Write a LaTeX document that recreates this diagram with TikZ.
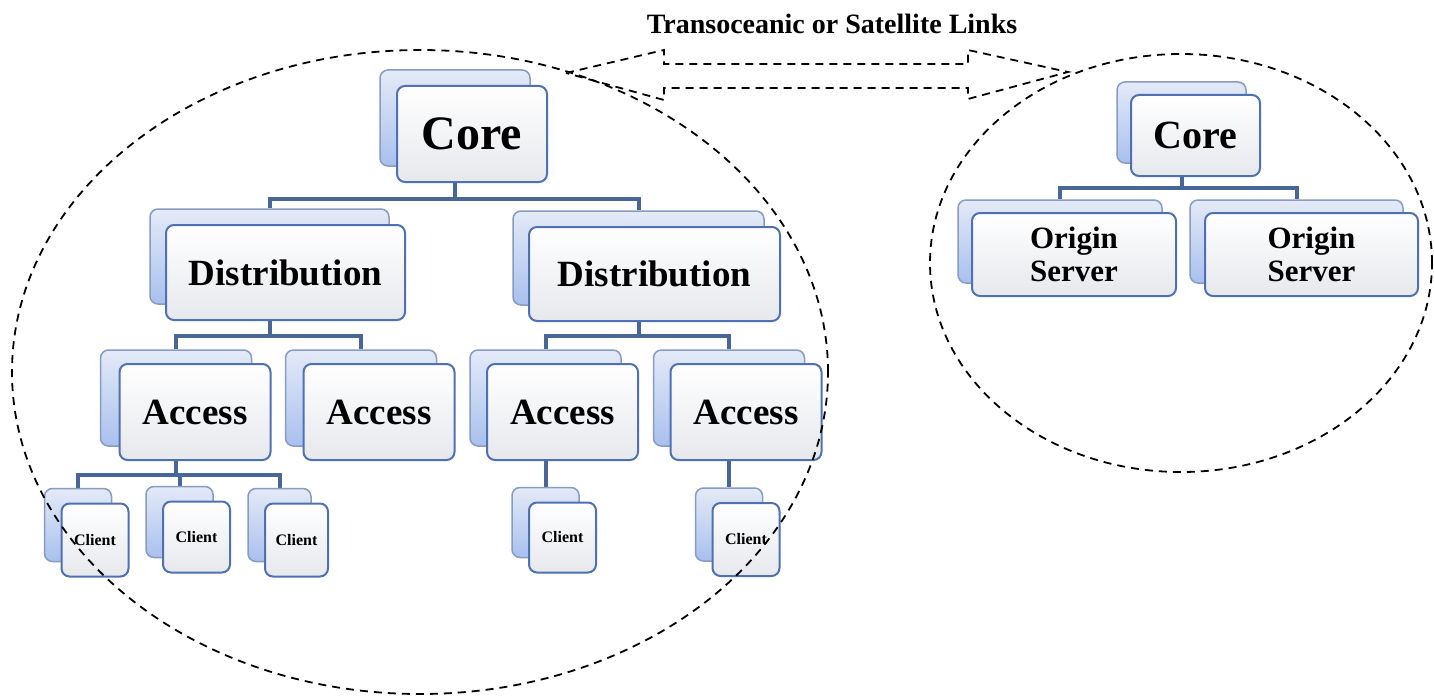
\documentclass[tikz,border=0pt]{standalone}
\usepackage{fontspec}
\setmainfont{Liberation Serif}
\usetikzlibrary{backgrounds}
\definecolor{frontbd}{RGB}{79,113,180}
\definecolor{backbd}{RGB}{135,155,195}
\definecolor{backtop}{RGB}{228,234,247}
\definecolor{backbot}{RGB}{168,192,238}
\definecolor{frontbot}{RGB}{230,232,236}
\definecolor{conncol}{RGB}{72,102,150}
\tikzset{
  backbox/.style={draw=backbd, line width=1.5pt, rounded corners=8pt, top color=backtop, bottom color=backbot, inner sep=0pt},
  frontbox/.style={draw=frontbd, line width=2pt, rounded corners=8pt, top color=white, bottom color=frontbot, inner sep=0pt, align=center},
  conn/.style={draw=conncol, line width=4pt},
  dashline/.style={draw=black, line width=1.8pt, dash pattern=on 8pt off 6pt},
}
\newcommand\fs[1]{\fontsize{#1}{#1}\selectfont}
% name, x, y, w, h, dx, dy, font size, text
\newcommand\mkpair[9]{%
  \node[backbox, minimum width=#4pt, minimum height=#5pt] (#1b) at (#2-#6,#3-#7) {};
  \node[frontbox, minimum width=#4pt, minimum height=#5pt, font=\bfseries\fs{#8}] (#1) at (#2,#3) {#9};
}
\begin{document}
\begin{tikzpicture}[x=1pt,y=-1pt]
\useasboundingbox (0,0) rectangle (1434,698);
% boxes
\mkpair{coreL}{472}{134}{150}{96}{17}{16}{48}{Core}
\mkpair{dL}{285.5}{272.5}{239}{95}{16}{16}{37}{Distribution}
\mkpair{dR}{654.5}{274}{251}{94}{16}{16}{37}{Distribution}
\mkpair{aA}{195}{412}{151}{96}{19}{14}{37}{Access}
\mkpair{aB}{379}{412}{151}{96}{18}{14}{37}{Access}
\mkpair{aC}{562.5}{412}{151}{96}{17}{14}{37}{Access}
\mkpair{aD}{746}{412}{151}{96}{17}{14}{37}{Access}
\mkpair{cA}{95}{540}{67}{73}{17}{15}{16}{Client}
\mkpair{cB}{196.5}{537}{67}{71}{17}{15}{16}{Client}
\mkpair{cC}{296.5}{540}{63}{73}{17}{15}{16}{Client}
\mkpair{cD}{562.5}{537.5}{67}{70}{17}{15}{16}{Client}
\mkpair{cE}{746}{539.5}{67}{73}{17}{15}{16}{Client}
\mkpair{coreR}{1195.5}{135.5}{129}{81}{14}{13}{40}{Core}
\mkpair{oA}{1074}{254.5}{204}{83}{14}{13}{31}{Origin\\[2pt]Server}
\mkpair{oB}{1311.5}{254.5}{213}{83}{15}{13}{31}{Origin\\[2pt]Server}
% bus levels
\coordinate (busA) at (0,199);
\coordinate (busB) at (0,336);
\coordinate (busC) at (0,475);
\coordinate (busD) at (0,188);
\begin{pgfonlayer}{background}
  \fill[white] (0,0) rectangle (1434,698);
  \draw[conn] (coreLb.center) -- (coreLb.center |- busA) -| (dLb.north);
  \draw[conn] (coreLb.center) -- (coreLb.center |- busA) -| (dRb.north);
  \draw[conn] (dLb.center) -- (dLb.center |- busB) -| (aAb.north);
  \draw[conn] (dLb.center) -- (dLb.center |- busB) -| (aBb.north);
  \draw[conn] (dRb.center) -- (dRb.center |- busB) -| (aCb.north);
  \draw[conn] (dRb.center) -- (dRb.center |- busB) -| (aDb.north);
  \draw[conn] (aAb.center) -- (aAb.center |- busC) -| (cAb.north);
  \draw[conn] (aAb.center) -- (aAb.center |- busC) -| (cBb.north);
  \draw[conn] (aAb.center) -- (aAb.center |- busC) -| (cCb.north);
  \draw[conn] (aCb.center) -- (cDb.north);
  \draw[conn] (aDb.center) -- (cEb.north);
  \draw[conn] (coreRb.center) -- (coreRb.center |- busD) -| (oAb.north);
  \draw[conn] (coreRb.center) -- (coreRb.center |- busD) -| (oBb.north);
\end{pgfonlayer}
% dashed regions
\draw[dashline] (420,372) ellipse [x radius=408pt, y radius=322pt];
\draw[dashline] (1181,263) ellipse [x radius=251pt, y radius=209pt];
% double arrow
\draw[dashline] (566,73) -- (664,50) -- (664,64) -- (968,64) -- (968,50) -- (1068,72)
  -- (968,99) -- (968,88) -- (664,88) -- (664,100) -- cycle;
\node[font=\bfseries\fs{28}] (title) at (832,24) {Transoceanic or Satellite Links};
\end{tikzpicture}
\end{document}
